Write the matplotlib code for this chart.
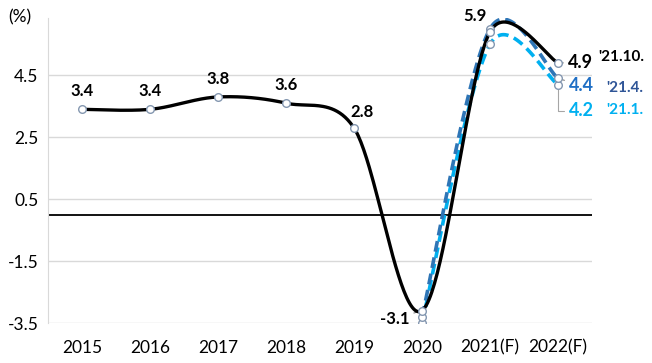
import numpy as np
import matplotlib
matplotlib.use("Agg")
import matplotlib.pyplot as plt

categories = ["2015", "2016", "2017", "2018", "2019", "2020", "2021(F)", "2022(F)"]
oct21 = [3.4, 3.4, 3.8, 3.6, 2.8, -3.1, 5.9, 4.9]
apr21 = [-3.3, 6.0, 4.4]
jan21 = [-3.5, 5.5, 4.2]
yticks = [-3.5, -1.5, 0.5, 2.5, 4.5]

plt.rcParams['font.family'] = ['Lato', 'DejaVu Sans']

# pixel scale of one x category / one y unit (for Excel-like smoothing in screen space)
SX, SY = 68.0, 30.85

def smooth(xs, ys, n=50):
    P = np.column_stack([np.asarray(xs, float) * SX, np.asarray(ys, float) * SY])
    out = []
    m = len(P)
    for i in range(m - 1):
        p0 = P[i - 1] if i > 0 else P[i]
        p1, p2 = P[i], P[i + 1]
        p3 = P[i + 2] if i + 2 < m else P[i + 1]
        d02 = np.linalg.norm(p2 - p0)
        d13 = np.linalg.norm(p3 - p1)
        d12 = np.linalg.norm(p2 - p1)
        f1 = 1 / 6 if d02 / 6 < d12 / 2 else d12 / (2 * d02)
        f2 = 1 / 6 if d13 / 6 < d12 / 2 else d12 / (2 * d13)
        c1 = p1 + (p2 - p0) * f1
        c2 = p2 - (p3 - p1) * f2
        t = np.linspace(0, 1, n)[:, None]
        seg = (1 - t) ** 3 * p1 + 3 * (1 - t) ** 2 * t * c1 + 3 * (1 - t) * t ** 2 * c2 + t ** 3 * p2
        out.append(seg if i == 0 else seg[1:])
    s = np.vstack(out)
    return s[:, 0] / SX, s[:, 1] / SY

fig = plt.figure(figsize=(6.52, 3.63), dpi=100)
W, H = 652, 363
ax = fig.add_axes([48 / W, 1 - 323 / H, (592 - 48) / W, (323 - 18) / H])

x_all = np.arange(len(categories))
x_f = x_all[5:]

c_jan = '#00B0F0'
c_apr = '#2E75B6'
mk = dict(marker='o', markersize=5.5, markerfacecolor='white', markeredgecolor='#8497B0', markeredgewidth=1.0, linestyle='none')

sx, sy = smooth(x_f, jan21)
ax.plot(sx, sy, color=c_jan, lw=2.6, dashes=(3, 1.6), zorder=3)
sx, sy = smooth(x_f, apr21)
ax.plot(sx, sy, color=c_apr, lw=2.6, dashes=(3, 1.6), zorder=4)
sx, sy = smooth(x_all, oct21)
ax.plot(sx, sy, color='black', lw=2.4, zorder=5)
ax.plot(x_f, jan21, zorder=6, **mk)
ax.plot(x_f, apr21, zorder=6, **mk)
ax.plot(x_all, oct21, zorder=7, **mk)

ax.set_xlim(-0.5, len(categories) - 0.5)
ax.set_ylim(-3.5, 6.35)
ax.set_yticks(yticks)
ax.set_yticklabels([f"{v:.1f}" for v in yticks])
ax.set_xticks(x_all)
ax.set_xticklabels(categories)
ax.grid(axis='y', color='#D9D9D9', lw=1)
ax.set_axisbelow(True)
ax.axhline(0, color='black', lw=1.3, zorder=2)
for s in ['top', 'right', 'bottom']:
    ax.spines[s].set_visible(False)
ax.spines['left'].set_color('#D9D9D9')
ax.tick_params(length=0, labelsize=12.5, colors='black')
ax.tick_params(axis='x', pad=12)
ax.tick_params(axis='y', pad=7)

fig.text(8 / W, 1 - 17 / H, "(%)", fontsize=12.5, va='center', ha='left')

lab = dict(fontsize=12, fontweight='bold', textcoords='offset pixels', ha='center', va='center')
lead = dict(arrowstyle='-', color='#7F7F7F', lw=0.8, shrinkA=1, shrinkB=3)
for i in range(4):
    ax.annotate(f"{oct21[i]:.1f}", (x_all[i], oct21[i]), xytext=(0, 18), **lab)
ax.annotate("2.8", (4, oct21[4]), xytext=(8, 16), **lab)
ax.annotate("-3.1", (5, oct21[5]), xytext=(-27, -8), arrowprops=lead, **lab)
ax.annotate("5.9", (6, oct21[6]), xytext=(-15, 16), **lab)
ax.annotate("4.9", (7, oct21[7]), xytext=(22, 0), arrowprops=lead, **dict(lab, fontsize=13))
ax.annotate("4.4", (7, apr21[2]), xytext=(23, -7), color='#1F6FC5', arrowprops=lead, **dict(lab, fontsize=13))
ax.annotate("4.2", (7, jan21[2]), xytext=(23, -26), color=c_jan,
            arrowprops=dict(lead, color='#A6A6A6', connectionstyle='angle,angleA=0,angleB=90,rad=0'),
            **dict(lab, fontsize=13))

fig.text(598 / W, 1 - 57 / H, "'21.10.", fontsize=11, fontweight='bold', va='center', ha='left', color='black')
fig.text(606 / W, 1 - 88 / H, "'21.4.", fontsize=11, fontweight='bold', va='center', ha='left', color='#2F5597')
fig.text(606 / W, 1 - 110 / H, "'21.1.", fontsize=11, fontweight='bold', va='center', ha='left', color=c_jan)

fig.savefig("out.png", dpi=100)
